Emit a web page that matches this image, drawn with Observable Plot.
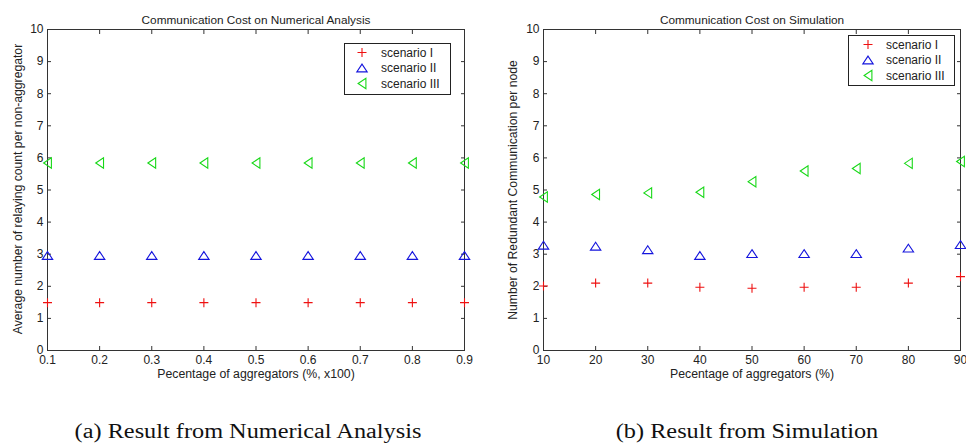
<!DOCTYPE html>
<html><head><meta charset="utf-8">
<script src="https://cdn.jsdelivr.net/npm/d3@7"></script>
<script src="https://cdn.jsdelivr.net/npm/@observablehq/plot@0.6"></script>
<style>
body{margin:0;background:#fff;}
#page{position:relative;width:966px;height:445px;overflow:hidden;font-family:"Liberation Sans",Arial,sans-serif;background:#fff;}
.panel{position:absolute;top:0;}
.caption{position:absolute;top:418px;font-family:"Liberation Serif","Times New Roman",serif;font-size:20.5px;color:#111;white-space:nowrap;transform:translateX(-50%) scaleX(1.185);line-height:26px;}
.legend{position:absolute;border:1px solid #222;background:#fff;box-sizing:border-box;}
</style></head><body><div id="page"></div>
<script>
// ---- data ----
const seriesNames = ["scenario I", "scenario II", "scenario III"];
const seriesColors = ["#ee1111", "#1515dd", "#18d818"];

const xNumerical = [0.1, 0.2, 0.3, 0.4, 0.5, 0.6, 0.7, 0.8, 0.9];
const numScenarioI   = [1.49, 1.49, 1.49, 1.49, 1.49, 1.49, 1.49, 1.49, 1.49];
const numScenarioII  = [2.96, 2.96, 2.96, 2.96, 2.96, 2.96, 2.96, 2.96, 2.96];
const numScenarioIII = [5.84, 5.84, 5.84, 5.84, 5.84, 5.84, 5.84, 5.84, 5.84];

const xSimulation = [10, 20, 30, 40, 50, 60, 70, 80, 90];
const simScenarioI   = [2.01, 2.10, 2.10, 1.97, 1.94, 1.97, 1.97, 2.10, 2.30];
const simScenarioII  = [3.28, 3.25, 3.14, 2.96, 3.02, 3.02, 3.02, 3.19, 3.30];
const simScenarioIII = [4.78, 4.86, 4.91, 4.93, 5.26, 5.59, 5.67, 5.83, 5.89];

const yTicks = [0, 1, 2, 3, 4, 5, 6, 7, 8, 9, 10];
const xTicksNumerical = ["0.1", "0.2", "0.3", "0.4", "0.5", "0.6", "0.7", "0.8", "0.9"];
const xTicksSimulation = ["10", "20", "30", "40", "50", "60", "70", "80", "90"];

const titles = ["Communication Cost on Numerical Analysis", "Communication Cost on Simulation"];
const xLabels = ["Pecentage of aggregators (%, x100)", "Pecentage of aggregators (%)"];
const yLabels = ["Average number of relaying count per non-aggregator", "Number of Redundant Communication per node"];
const captions = ["(a) Result from Numerical Analysis", "(b) Result from Simulation"];

// ---- marker shapes (MATLAB-like) ----
const plusSym = {draw(c) { c.moveTo(-4.5, 0); c.lineTo(4.5, 0); c.moveTo(0, -4.5); c.lineTo(0, 4.5); }};
const upTri = {draw(c) { c.moveTo(0, -3.9); c.lineTo(5.2, 3.9); c.lineTo(-5.2, 3.9); c.closePath(); }};
const leftTri = {draw(c) { c.moveTo(-3.9, 0); c.lineTo(3.9, -5.2); c.lineTo(3.9, 5.2); c.closePath(); }};
const symbols = [plusSym, upTri, leftTri];

function toRows(xs, ys) { return xs.map((x, i) => ({x, y: ys[i]})); }

const page = document.getElementById("page");

function panel({left, ml, mr, xs, series, xTicks, title, xLabel, yLabel, yLabelDx, yLabelDy}) {
  const xt = xTicks.map(Number);
  const chart = Plot.plot({
    width: 483, height: 390,
    marginLeft: ml, marginRight: mr, marginTop: 29, marginBottom: 40,
    style: {fontFamily: "'Liberation Sans', Arial, sans-serif", fontSize: "12px", color: "#222", background: "transparent", overflow: "visible"},
    x: {domain: [xt[0], xt[xt.length - 1]]},
    y: {domain: [0, 10]},
    marks: [
      Plot.frame({stroke: "#333"}),
      Plot.axisX({anchor: "bottom", ticks: xt, tickSize: -4, tickPadding: 9, tickFormat: (d) => xTicks[xt.indexOf(d)], label: null, stroke: "#333", fill: "#222"}),
      Plot.axisX({anchor: "top", ticks: xt, tickSize: -4, tickFormat: () => "", label: null, stroke: "#333"}),
      Plot.axisY({anchor: "left", ticks: yTicks, tickSize: -4, tickPadding: 8, label: null, stroke: "#333", fill: "#222"}),
      Plot.axisY({anchor: "right", ticks: yTicks, tickSize: -4, tickFormat: () => "", label: null, stroke: "#333"}),
      Plot.text([title], {frameAnchor: "top", dy: -14, text: (d) => d, fontSize: 11.8, fill: "#222"}),
      Plot.text([xLabel], {frameAnchor: "bottom", dy: 27, text: (d) => d, fontSize: 12.3, fill: "#222"}),
      Plot.text([yLabel], {frameAnchor: "left", textAnchor: "middle", dx: yLabelDx, dy: yLabelDy, rotate: -90, text: (d) => d, fontSize: 12.2, fill: "#222"}),
      ...series.map((ys, i) => Plot.dot(toRows(xs, ys), {x: "x", y: "y", symbol: symbols[i], r: 4, stroke: seriesColors[i], strokeWidth: 1.1, fill: "none"}))
    ]
  });
  const wrap = document.createElement("div");
  wrap.className = "panel";
  wrap.style.left = left + "px";
  wrap.appendChild(chart);
  page.appendChild(wrap);
}

function legend({left, top, w, h, symX, textX}) {
  const div = document.createElement("div");
  div.className = "legend";
  Object.assign(div.style, {left: left + "px", top: top + "px", width: w + "px", height: h + "px"});
  const svg = d3.create("svg").attr("width", w - 2).attr("height", h - 2)
    .style("font-family", "'Liberation Sans', Arial, sans-serif").style("font-size", "12px");
  const rowsY = [8.5, 24, 39.5];
  seriesNames.forEach((name, i) => {
    const p = d3.path();
    symbols[i].draw(p);
    svg.append("path").attr("d", p.toString()).attr("transform", `translate(${symX},${rowsY[i]})`)
      .attr("fill", "none").attr("stroke", seriesColors[i]).attr("stroke-width", 1.1);
    svg.append("text").attr("x", textX).attr("y", rowsY[i]).attr("dy", "0.35em").attr("fill", "#222").text(name);
  });
  div.appendChild(svg.node());
  page.appendChild(div);
}

panel({left: 0, ml: 47, mr: 19, xs: xNumerical, series: [numScenarioI, numScenarioII, numScenarioIII],
  xTicks: xTicksNumerical, title: titles[0], xLabel: xLabels[0], yLabel: yLabels[0], yLabelDx: -29, yLabelDy: -1});
panel({left: 483, ml: 60, mr: 6, xs: xSimulation, series: [simScenarioI, simScenarioII, simScenarioIII],
  xTicks: xTicksSimulation, title: titles[1], xLabel: xLabels[1], yLabel: yLabels[1], yLabelDx: -30, yLabelDy: 0});

legend({left: 344, top: 43, w: 107, h: 52, symX: 17, textX: 36});
legend({left: 848, top: 35, w: 107, h: 51, symX: 19, textX: 37});

captions.forEach((t, i) => {
  const d = document.createElement("div");
  d.className = "caption";
  d.style.left = (i === 0 ? 247.5 : 746.5) + "px";
  d.textContent = t;
  page.appendChild(d);
});
</script>
</body></html>
